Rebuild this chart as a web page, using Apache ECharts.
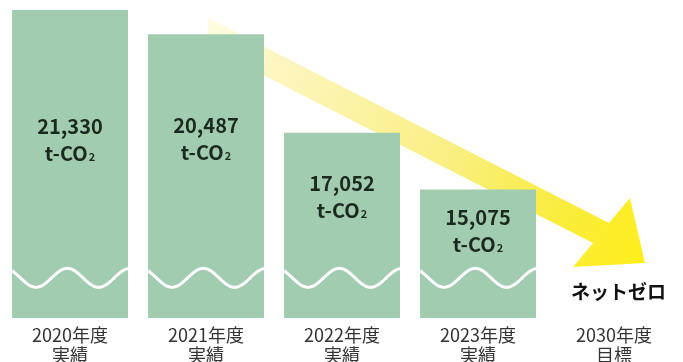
<!DOCTYPE html>
<html><head><meta charset="utf-8">
<script src="https://cdn.jsdelivr.net/npm/echarts@6/dist/echarts.min.js"></script>
<style>html,body{margin:0;padding:0;background:#fff}#c{width:683px;height:362px}</style>
</head><body><div id="c"></div>
<script>
const categories = ['2020年度\n実績','2021年度\n実績','2022年度\n実績','2023年度\n実績','2030年度\n目標'];
const emissions = [21330, 20487, 17052, 15075, null];
const labelTexts = ['21,330','20,487','17,052','15,075'];
const targetText = 'ネットゼロ';
const breakValue = 12000;

const FONT = '"Noto Sans CJK JP", "Noto Sans", sans-serif';
const labelTop = [130, 105, 64, 41];

const chart = echarts.init(document.getElementById('c'));
const barData = emissions.map((v, i) => v == null ? '-' : {
  value: v,
  label: { position: ['50%', labelTop[i]] }
});

chart.setOption({
  animation: false,
  grid: { left: 2, right: 1, top: 10, bottom: 44, containLabel: false, outerBoundsMode: 'none' },
  xAxis: {
    type: 'category', data: categories,
    axisLine: { show: false }, axisTick: { show: false },
    axisLabel: { color: '#333', fontFamily: FONT, fontSize: 18, lineHeight: 20, margin: 7 }
  },
  yAxis: { type: 'value', min: 10600, max: 21330, show: false, splitLine: { show: false } },
  graphic: {
    elements: [
      {
        type: 'polygon', z: 0,
        shape: { points: [[208,18],[609,223],[630,198],[645,263],[573,267],[593,243],[208,47]] },
        style: {
          fill: new echarts.graphic.LinearGradient(210, 20, 645, 250, [
            { offset: 0, color: 'rgba(255,248,190,0.45)' },
            { offset: 0.15, color: '#fdf6c2' },
            { offset: 0.55, color: '#f9ef84' },
            { offset: 0.82, color: '#f9ec3c' },
            { offset: 1, color: '#ffee1e' }
          ], true)
        }
      },
      {
        type: 'text', left: 571, top: 282, z: 5,
        style: { text: targetText, fill: '#111', font: 'bold 19px ' + FONT }
      }
    ]
  },
  series: [
    {
      type: 'bar', data: barData, barWidth: 116, itemStyle: { color: '#a2ccb0' },
      label: {
        show: true, align: 'center', verticalAlign: 'middle',
        formatter: p => '{v|' + labelTexts[p.dataIndex] + '}\n{u|t-CO}{s|2}',
        rich: {
          v: { fontFamily: FONT, fontWeight: 'bold', fontSize: 20, color: '#1b2a1e', lineHeight: 27 },
          u: { fontFamily: FONT, fontWeight: 'bold', fontSize: 20, color: '#1b2a1e', lineHeight: 27 },
          s: { fontFamily: FONT, fontWeight: 'bold', fontSize: 11, color: '#1b2a1e', lineHeight: 27, padding: [7, 0, 0, 1] }
        }
      }
    },
    {
      type: 'custom',
      data: emissions.map((v, i) => v == null ? null : [i, breakValue]).filter(Boolean),
      renderItem: function (params, api) {
        const c = api.coord([api.value(0), api.value(1)]);
        const w = 116;
        const x0 = c[0] - w / 2;
        const P = w * 0.54, ph = w * 0.207, A = 9.5;
        const pts = [];
        for (let k = 0; k <= 58; k++) {
          const x = x0 + w * k / 58;
          pts.push([x, c[1] + A * Math.cos(2 * Math.PI * (x - x0 - ph) / P)]);
        }
        return { type: 'polyline', shape: { points: pts }, style: { stroke: '#fff', lineWidth: 3, fill: null } };
      },
      z: 3
    }
  ]
});
</script></body></html>
